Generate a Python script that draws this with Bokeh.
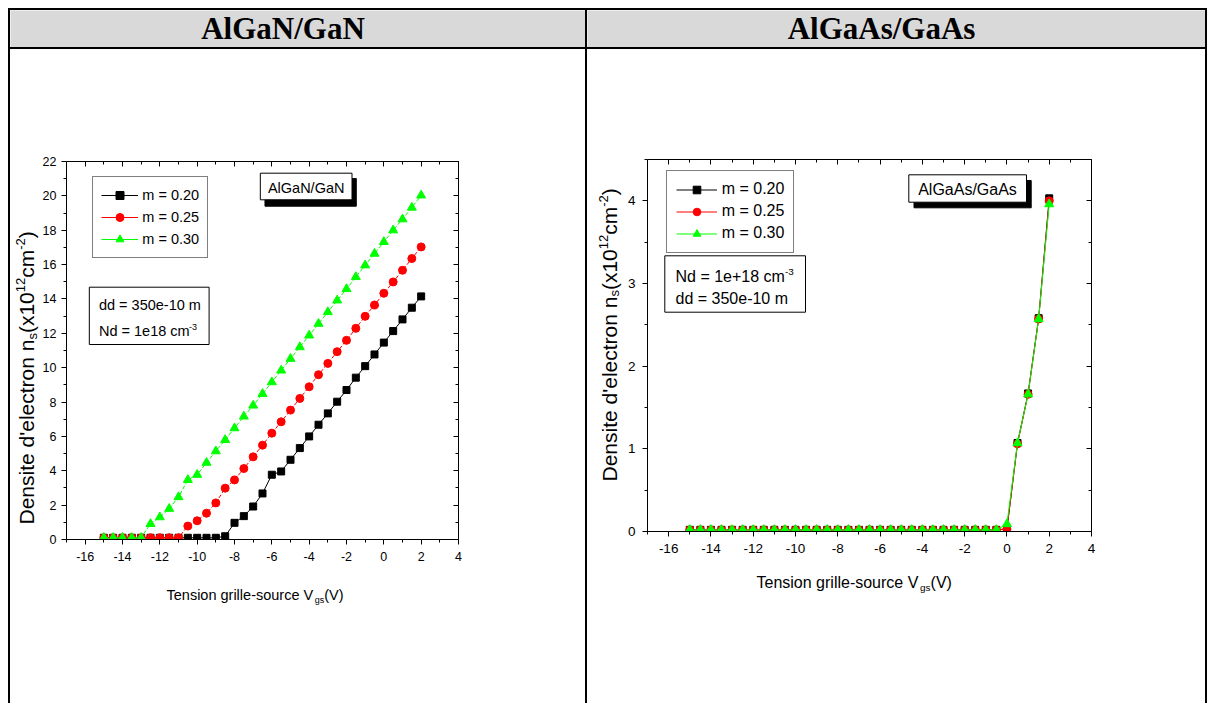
import math
from bokeh.plotting import figure
from bokeh.layouts import column, row
from bokeh.models import (Range1d, LinearAxis, FixedTicker, Label, BoxAnnotation,
                          Legend, LegendItem, CustomJSTickFormatter, ColumnDataSource, Spacer)
from bokeh.embed import file_html
from bokeh.resources import INLINE

# ---------------- data ----------------
vgs = [-15.0, -14.5, -14.0, -13.5, -13.0, -12.5, -12.0, -11.5, -11.0, -10.5,
       -10.0, -9.5, -9.0, -8.5, -8.0, -7.5, -7.0, -6.5, -6.0, -5.5,
       -5.0, -4.5, -4.0, -3.5, -3.0, -2.5, -2.0, -1.5, -1.0, -0.5,
       0.0, 0.5, 1.0, 1.5, 2.0]

gan_m020 = [0.10, 0.10, 0.10, 0.10, 0.10, 0.10, 0.10, 0.10, 0.10, 0.10,
            0.10, 0.10, 0.10, 0.19, 0.97, 1.36, 1.92, 2.68, 3.77, 3.96,
            4.64, 5.32, 6.00, 6.68, 7.34, 8.02, 8.70, 9.42, 10.09, 10.77,
            11.46, 12.13, 12.81, 13.49, 14.15]
gan_m025 = [0.10, 0.10, 0.10, 0.10, 0.10, 0.10, 0.10, 0.10, 0.10, 0.78,
            1.09, 1.53, 2.13, 2.99, 3.47, 4.13, 4.81, 5.49, 6.19, 6.85,
            7.53, 8.21, 8.89, 9.59, 10.25, 10.93, 11.59, 12.29, 12.99, 13.65,
            14.33, 14.99, 15.67, 16.35, 17.03]
gan_m030 = [0.10, 0.10, 0.10, 0.10, 0.10, 0.91, 1.30, 1.79, 2.47, 3.47,
            3.77, 4.47, 5.14, 5.80, 6.48, 7.16, 7.80, 8.48, 9.16, 9.84,
            10.52, 11.20, 11.88, 12.56, 13.24, 13.92, 14.58, 15.28, 15.96, 16.64,
            17.32, 18.00, 18.64, 19.32, 20.03]

gaas_m020 = [0.02, 0.02, 0.02, 0.02, 0.02, 0.02, 0.02, 0.02, 0.02, 0.02,
             0.02, 0.02, 0.02, 0.02, 0.02, 0.02, 0.02, 0.02, 0.02, 0.02,
             0.02, 0.02, 0.02, 0.02, 0.02, 0.02, 0.02, 0.02, 0.02, 0.02,
             0.03, 1.07, 1.67, 2.58, 4.03]
gaas_m025 = [0.02, 0.02, 0.02, 0.02, 0.02, 0.02, 0.02, 0.02, 0.02, 0.02,
             0.02, 0.02, 0.02, 0.02, 0.02, 0.02, 0.02, 0.02, 0.02, 0.02,
             0.02, 0.02, 0.02, 0.02, 0.02, 0.02, 0.02, 0.02, 0.02, 0.02,
             0.03, 1.06, 1.66, 2.57, 4.00]
gaas_m030 = [0.02, 0.02, 0.02, 0.02, 0.02, 0.02, 0.02, 0.02, 0.02, 0.02,
             0.02, 0.02, 0.02, 0.02, 0.02, 0.02, 0.02, 0.02, 0.02, 0.02,
             0.02, 0.02, 0.02, 0.02, 0.02, 0.02, 0.02, 0.02, 0.02, 0.02,
             0.09, 1.07, 1.66, 2.57, 3.96]

series_labels = ["m = 0.20", "m = 0.25", "m = 0.30"]
headers = ["AlGaN/GaN", "AlGaAs/GaAs"]

x_ticks = [-16, -14, -12, -10, -8, -6, -4, -2, 0, 2, 4]
x_tick_labels = ["-16", "-14", "-12", "-10", "-8", "-6", "-4", "-2", "0", "2", "4"]
x_minor = [-17, -15, -13, -11, -9, -7, -5, -3, -1, 1, 3]

gan_y_ticks = [0, 2, 4, 6, 8, 10, 12, 14, 16, 18, 20, 22]
gan_y_labels = ["0", "2", "4", "6", "8", "10", "12", "14", "16", "18", "20", "22"]
gan_y_minor = [1, 3, 5, 7, 9, 11, 13, 15, 17, 19, 21]

gaas_y_ticks = [0, 1, 2, 3, 4]
gaas_y_labels = ["0", "1", "2", "3", "4"]
gaas_y_minor = [0.5, 1.5, 2.5, 3.5, 4.5]

NAN = float("nan")

# ---------------- helpers ----------------
FONT = "Liberation Sans"
SHIFT = 0.32   # measured offset of the rendered baseline, in font sizes
AW = {" ": 278, "'": 191, "(": 333, ")": 333, "+": 584, "-": 333, ".": 278, "/": 278,
      "=": 584, "A": 667, "D": 722, "G": 778, "N": 722, "S": 667, "T": 611, "V": 667,
      "a": 556, "c": 500, "d": 556, "e": 556, "g": 556, "i": 222, "l": 222, "m": 833,
      "n": 556, "o": 556, "r": 333, "s": 500, "t": 278, "u": 556, "x": 500}
for _d in "0123456789":
    AW[_d] = 556


def tw(s, size):
    return sum(AW.get(ch, 556) for ch in s) / 1000.0 * size


class Base:
    def label(self, px, py, text, size, angle=0.0, align="left", font=FONT, style="normal"):
        if angle == 0.0:
            py = py - SHIFT * size
        else:
            px = px - SHIFT * size
        self.p.add_layout(Label(x=self.dx(px), y=self.dy(py), text=text, text_font=font,
                                text_font_size=f"{size:.2f}px", text_font_style=style,
                                text_color="black", text_align=align,
                                text_baseline="alphabetic", angle=angle))

    def rich(self, px, py, pieces, size, vertical=False, sub=0.22, sup=0.40):
        small = size * 0.62
        pos = 0.0
        for txt, kind in pieces:
            s = size if kind == "n" else small
            off = 0.0 if kind == "n" else (sub * size if kind == "sub" else -sup * size)
            if vertical:
                self.label(px + off, py - pos, txt, s, angle=math.pi / 2)
            else:
                self.label(px + pos, py + off, txt, s)
            pos += tw(txt, s)

    def box(self, l, t, r, b, fill="white", line="black"):
        self.p.add_layout(BoxAnnotation(left=self.dx(l), right=self.dx(r), top=self.dy(t),
                                        bottom=self.dy(b), fill_color=fill, fill_alpha=1.0,
                                        line_color=line, line_width=1, line_alpha=1.0))


class TextCell(Base):
    """A plain figure used as a text canvas; its ranges are its pixels."""

    def __init__(self, px0, py0, w, h, bg="white"):
        self.px0, self.py0, self.w, self.h = px0, py0, w, h
        self.p = figure(width=w, height=h, x_range=Range1d(0, w), y_range=Range1d(0, h),
                        title=None, min_border=0, x_axis_location=None, y_axis_location=None,
                        toolbar_location=None, output_backend="svg",
                        background_fill_color=bg, border_fill_color=bg,
                        outline_line_color=None)
        self.p.frame_align = False
        self.p.grid.visible = False

    def dx(self, px):
        return px - self.px0

    def dy(self, py):
        return self.h - (py - self.py0)


class Chart(Base):
    def __init__(self, px0, py0, w, h, fl, fr, ft, fb, xr, yr):
        self.xr, self.yr = xr, yr
        self.fl, self.fr, self.ft, self.fb = fl, fr, ft, fb
        self.p = figure(width=w, height=h, x_range=Range1d(*xr), y_range=Range1d(*yr),
                        title=None, output_backend="svg", toolbar_location=None,
                        min_border_left=fl - px0, min_border_right=px0 + w - fr,
                        min_border_top=ft - py0, min_border_bottom=py0 + h - fb,
                        background_fill_color="white", border_fill_color="white",
                        outline_line_color=None)
        self.p.frame_align = False
        self.p.grid.visible = False

    def dx(self, px):
        return self.xr[0] + (px - self.fl) * (self.xr[1] - self.xr[0]) / (self.fr - self.fl)

    def dy(self, py):
        return self.yr[0] + (self.fb - py) * (self.yr[1] - self.yr[0]) / (self.fb - self.ft)

    def axes(self, xt, xl, xm, yt, yl, ym, tick_size, x_standoff, y_standoff):
        p = self.p
        xa = p.xaxis[0]
        ya = p.yaxis[0]
        xa.ticker = FixedTicker(ticks=xt, minor_ticks=xm)
        ya.ticker = FixedTicker(ticks=yt, minor_ticks=ym)
        xa.major_label_overrides = {t: s for t, s in zip(xt, xl)}
        ya.major_label_overrides = {t: s for t, s in zip(yt, yl)}
        xa.major_label_standoff = x_standoff
        ya.major_label_standoff = y_standoff
        for a in (xa, ya):
            a.major_tick_out = 5
            a.major_tick_in = 0
            a.minor_tick_out = 3
            a.minor_tick_in = 0
            a.axis_line_color = "black"
            a.major_tick_line_color = "black"
            a.minor_tick_line_color = "black"
            a.major_label_text_font = FONT
            a.major_label_text_font_size = f"{tick_size}px"
            a.major_label_text_color = "black"
        for loc, tk, mn in (("above", xt, xm), ("right", yt, ym)):
            ax = LinearAxis(ticker=FixedTicker(ticks=tk, minor_ticks=mn),
                            formatter=CustomJSTickFormatter(code="return ''"),
                            major_tick_in=5, major_tick_out=0, minor_tick_in=3, minor_tick_out=0,
                            axis_line_color="black", major_tick_line_color="black",
                            minor_tick_line_color="black", major_label_text_font_size="1px",
                            major_label_text_color=None)
            p.add_layout(ax, loc)


COLORS = ["#000000", "#ff0000", "#00ff00"]
MARKERS = [("square", 7), ("circle", 8), ("triangle", 9)]


def draw_series(c, ys, dashes, legend_kw, top_left):
    p = c.p
    items = []
    for i, y in enumerate(ys):
        src = ColumnDataSource(data=dict(x=vgs, y=y))
        ln = p.line("x", "y", source=src, line_color=COLORS[i], line_width=1,
                    line_dash=dashes[i])
        mk, sz = MARKERS[i]
        sc = p.scatter("x", "y", source=src, marker=mk, size=sz,
                       fill_color=COLORS[i], line_color=COLORS[i])
        if dashes[i] != "solid":
            proxy = p.line(x=[NAN], y=[NAN], line_color=COLORS[i], line_width=1)
            items.append(LegendItem(label=series_labels[i], renderers=[proxy, sc]))
        else:
            items.append(LegendItem(label=series_labels[i], renderers=[ln, sc]))
    pad = legend_kw["padding"]
    hgt = 2 * pad + 3 * legend_kw["glyph_height"] + 2 * legend_kw["spacing"]
    loc = (top_left[0] - c.fl, c.fb - (top_left[1] + hgt))
    leg = Legend(items=items, location=loc, border_line_color="black", border_line_width=1,
                 background_fill_color="white", background_fill_alpha=1.0,
                 label_text_font=FONT, label_text_color="black", margin=0, **legend_kw)
    p.add_layout(leg)


YLAB = [("Densite d'electron n", "n"), ("s", "sub"), ("(x10", "n"), ("12", "sup"),
        ("cm", "n"), ("-2", "sup"), (")", "n")]
XLAB = [("Tension grille-source V", "n"), ("gs", "sub"), ("(V)", "n")]
YSIZE = 21

# ---------------- left cell: AlGaN/GaN ----------------
L = Chart(39, 49, 546, 526, 63, 458, 161, 539, (-17, 4), (0, 22))
L.axes(x_ticks, x_tick_labels, x_minor, gan_y_ticks, gan_y_labels, gan_y_minor, 12.5, 7, 5)
L.box(263, 178, 355, 205.7, fill="black", line="black")
L.box(258.3, 172.7, 350.7, 199.3)
L.label(304.5, 192.5, headers[0], 14.5, align="center")
L.box(86, 286.7, 206.7, 344)
L.label(95.7, 309, "dd = 350e-10 m", 14.5)
L.rich(95.7, 335.5, [("Nd = 1e18 cm", "n"), ("-3", "sup")], 14.5)
lkw = dict(padding=8, spacing=2, glyph_width=37, glyph_height=20, label_height=20,
           label_standoff=4, label_text_font_size="14.5px")
draw_series(L, [gan_m020, gan_m025, gan_m030], ["solid", "4 2", "4 2"], lkw, (89.3, 178.3))

YL_L = TextCell(10, 49, 29, 526)
YL_L.rich(33, 524, YLAB, YSIZE, vertical=True, sub=0.15)
XL_L = TextCell(10, 575, 575, 128)
XL_L.rich(166, 599, XLAB, 14.5)

# ---------------- right cell: AlGaAs/GaAs ----------------
R = Chart(624, 49, 581, 521, 647, 1091, 159, 531, (-17, 4), (0, 4.5))
R.axes(x_ticks, x_tick_labels, x_minor, gaas_y_ticks, gaas_y_labels, gaas_y_minor, 13.5, 7, 7)
R.box(913.5, 180, 1030.7, 207.3, fill="black", line="black")
R.box(908.3, 174.3, 1026, 201.7)
R.label(967, 194, headers[1], 16, align="center")
R.box(664.3, 255.3, 805, 311.7)
R.rich(675, 281.5, [("Nd = 1e+18 cm", "n"), ("-3", "sup")], 16)
R.label(675, 303, "dd = 350e-10 m", 16)
rkw = dict(padding=9, spacing=3, glyph_width=41, glyph_height=19, label_height=19,
           label_standoff=5, label_text_font_size="16px")
draw_series(R, [gaas_m020, gaas_m025, gaas_m030], ["solid", "solid", "solid"], rkw,
            (665.7, 171.5))

YL_R = TextCell(587, 49, 37, 521)
YL_R.rich(615.5, 481, YLAB, YSIZE, vertical=True, sub=0.15)
XL_R = TextCell(587, 570, 618, 133)
XL_R.rich(756, 587, XLAB, 16)

# ---------------- header cells ----------------
H1 = TextCell(10, 10, 575, 37, bg="#d9d9d9")
H1.label(282.5, 38.3, headers[0], 31, align="center", font="Liberation Serif", style="bold")
H2 = TextCell(587, 10, 618, 37, bg="#d9d9d9")
H2.label(881, 38.3, headers[1], 31, align="center", font="Liberation Serif", style="bold")


def bar(w, h):
    return Spacer(width=w, height=h, styles={"background-color": "black"})


left_cell = column(row(YL_L.p, L.p), XL_L.p)
right_cell = column(row(YL_R.p, R.p), XL_R.p)

table = column(
    bar(1199, 2),
    row(bar(2, 37), H1.p, bar(2, 37), H2.p, bar(2, 37)),
    bar(1199, 2),
    row(bar(2, 654), left_cell, bar(2, 654), right_cell, bar(2, 654)),
)
page = column(Spacer(width=1207, height=8), row(Spacer(width=8, height=695), table))

open("out.html", "w").write(file_html(page, INLINE))
